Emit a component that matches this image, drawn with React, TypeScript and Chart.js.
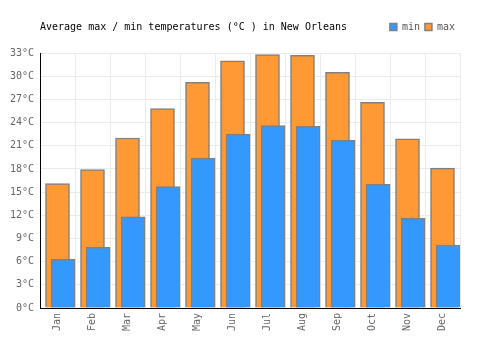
import React, { useEffect, useRef } from "react";
import { Chart, registerables } from "chart.js";

Chart.register(...registerables);

const months = ["Jan", "Feb", "Mar", "Apr", "May", "Jun", "Jul", "Aug", "Sep", "Oct", "Nov", "Dec"];
const maxTemps = [16.1, 17.9, 22.0, 25.8, 29.2, 32.0, 32.8, 32.7, 30.5, 26.6, 21.9, 18.1];
const minTemps = [6.3, 7.85, 11.8, 15.7, 19.4, 22.5, 23.6, 23.5, 21.7, 16.0, 11.6, 8.15];
const yTickStep = 3;
const yMax = 33;
const titleText = "Average max / min temperatures (°C ) in New Orleans";

const MONO = "'DejaVu Sans Mono', monospace";

export default function App() {
  const ref = useRef<HTMLCanvasElement | null>(null);

  useEffect(() => {
    const prevMargin = document.body.style.margin;
    document.body.style.margin = "0";
    const canvas = ref.current;
    if (!canvas) return;
    const minShift = 0.16;
    const chart = new Chart(canvas, {
      type: "bar",
      data: {
        labels: months,
        datasets: [
          {
            label: "min",
            data: minTemps.map((v, i) => ({ x: i + minShift, y: v })),
            backgroundColor: "#3399ff",
            borderColor: "#808080",
            borderWidth: 1.5,
            barThickness: 24,
            grouped: false,
            xAxisID: "x",
            yAxisID: "y",
          },
          {
            label: "max",
            data: maxTemps.map((v, i) => ({ x: i, y: v })),
            backgroundColor: "#ff9933",
            borderColor: "#808080",
            borderWidth: 1.5,
            barThickness: 24,
            grouped: false,
            xAxisID: "x",
            yAxisID: "y",
          },
        ] as any,
      },
      options: {
        animation: false,
        responsive: true,
        maintainAspectRatio: false,
        layout: { padding: { left: 0, right: 40, top: 0, bottom: 0 } },
        plugins: {
          tooltip: { enabled: false },
          title: {
            display: true,
            fullSize: false,
            text: titleText,
            align: "start",
            color: "#000",
            font: { family: MONO, size: 10, weight: "normal" as any, lineHeight: 1.2 },
            padding: { top: 21, bottom: -16 },
          },
          legend: {
            display: true,
            fullSize: false,
            position: "top",
            align: "end",
            labels: {
              boxWidth: 7,
              boxHeight: 7,
              padding: 5,
              color: "#555",
              font: { family: MONO, size: 10 },
            },
          },
        },
        scales: {
          x: {
            type: "linear",
            position: "top",
            offset: false,
            min: -0.5,
            max: months.length - 0.5,
            grid: { display: false, drawTicks: false },
            border: { display: false },
            ticks: { display: false },
            title: {
              display: true,
              text: " ",
              color: "rgba(0,0,0,0)",
              padding: 0,
              font: { family: MONO, size: 10, lineHeight: 1.1 },
            },
          },
          xc: {
            type: "category",
            position: "bottom",
            labels: months,
            offset: true,
            grid: { offset: true, color: "#ebebeb", drawTicks: false },
            border: { display: true, color: "#000", width: 1 },
            ticks: {
              minRotation: 90,
              maxRotation: 90,
              padding: 5,
              color: "#666",
              font: { family: MONO, size: 10 },
            },
            afterFit: (scale: any) => {
              scale.height = 42;
            },
          },
          y: {
            type: "linear",
            min: 0,
            max: yMax,
            ticks: {
              stepSize: yTickStep,
              padding: 6,
              color: "#666",
              font: { family: MONO, size: 10 },
              callback: (v: any) => `${v}°C`,
            },
            grid: { color: "#ebebeb", drawTicks: false },
            border: { display: true, color: "#000", width: 1 },
            afterFit: (scale: any) => {
              scale.width = 40;
            },
          },
        } as any,
      },
    });
    return () => {
      chart.destroy();
      document.body.style.margin = prevMargin;
    };
  }, []);

  return (
    <div style={{ position: "fixed", left: 0, top: 0, width: 500, height: 350 }}>
      <canvas ref={ref} />
    </div>
  );
}
